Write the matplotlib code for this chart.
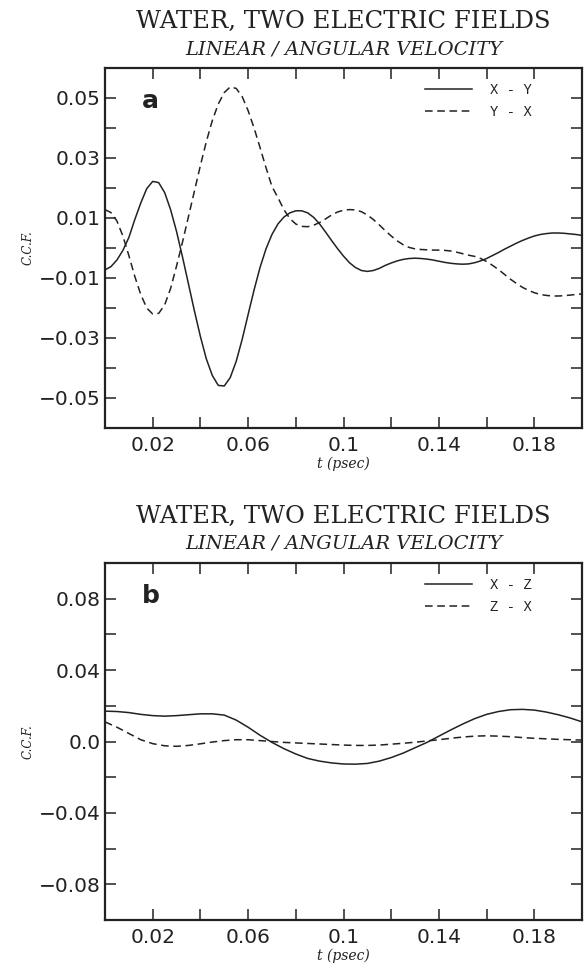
"""Cross correlation functions, water in two electric fields"""
import numpy as np
import matplotlib
matplotlib.use('Agg')
from matplotlib import pyplot as plt
from matplotlib.ticker import FixedLocator, FixedFormatter

# time axes, psec (panel a sampled finer, its curves are sharper)
t_a = np.arange(81) * 0.0025
t_b = np.arange(41) * 0.005

# panel a: linear / angular velocity, x-y and y-x
ccf_xy = [-0.0073, -0.0062, -0.0040, -0.0008, 0.0035, 0.0095, 0.0150, 0.0198, 0.0222, 0.0218,
          0.0185, 0.0128, 0.0055, -0.0030, -0.0120, -0.0210, -0.0295, -0.0370, -0.0425, -0.0458,
          -0.0460, -0.0432, -0.0378, -0.0305, -0.0222, -0.0140, -0.0065, -0.0003, 0.0045, 0.0080,
          0.0103, 0.0117, 0.0124, 0.0124, 0.0117, 0.0102, 0.0080, 0.0053, 0.0025, -0.0002,
          -0.0027, -0.0049, -0.0065, -0.0075, -0.0078, -0.0075, -0.0068, -0.0058, -0.0050, -0.0043,
          -0.0038, -0.0035, -0.0034, -0.0035, -0.0037, -0.0040, -0.0044, -0.0048, -0.0051, -0.0053,
          -0.0054, -0.0053, -0.0049, -0.0043, -0.0035, -0.0025, -0.0015, -0.0004, 0.0006, 0.0016,
          0.0025, 0.0033, 0.0040, 0.0045, 0.0048, 0.0050, 0.0050, 0.0049, 0.0047, 0.0045,
          0.0042]
ccf_yx = [0.0128, 0.0118, 0.0090, 0.0040, -0.0025, -0.0095, -0.0155, -0.0200, -0.0220, -0.0218,
          -0.0190, -0.0135, -0.0060, 0.0020, 0.0105, 0.0190, 0.0275, 0.0355, 0.0425, 0.0480,
          0.0518, 0.0537, 0.0532, 0.0505, 0.0458, 0.0400, 0.0335, 0.0268, 0.0205, 0.0168,
          0.0128, 0.0098, 0.0080, 0.0072, 0.0071, 0.0076, 0.0085, 0.0097, 0.0110, 0.0120,
          0.0126, 0.0128, 0.0127, 0.0121, 0.0110, 0.0095, 0.0077, 0.0058, 0.0040, 0.0024,
          0.0011, 0.0002, -0.0003, -0.0005, -0.0006, -0.0007, -0.0007, -0.0008, -0.0010, -0.0014,
          -0.0019, -0.0024, -0.0028, -0.0035, -0.0045, -0.0058, -0.0072, -0.0088, -0.0104, -0.0118,
          -0.0131, -0.0141, -0.0149, -0.0155, -0.0158, -0.0160, -0.0160, -0.0159, -0.0157, -0.0155,
          -0.0153]

# panel b: x-z and z-x
ccf_xz = [0.017, 0.0168, 0.0162, 0.0152, 0.0145, 0.0142, 0.0145, 0.015, 0.0155, 0.0155,
          0.0148, 0.012, 0.008, 0.0035, -0.0005, -0.004, -0.007, -0.0095, -0.011, -0.012,
          -0.0126, -0.0127, -0.0123, -0.011, -0.009, -0.0065, -0.0035, -0.0005, 0.003, 0.0065,
          0.0098, 0.0128, 0.0152, 0.0168, 0.0178, 0.018, 0.0176, 0.0165, 0.015, 0.0132,
          0.011]
ccf_zx = [0.011, 0.008, 0.0045, 0.001, -0.0012, -0.0024, -0.0027, -0.0022, -0.0013, -0.0003,
          0.0005, 0.001, 0.001, 0.0005, 0.0, -0.0005, -0.0008, -0.0011, -0.0014, -0.0017,
          -0.002, -0.0022, -0.0022, -0.002, -0.0015, -0.001, -0.0004, 0.0003, 0.001, 0.0018,
          0.0025, 0.003, 0.0032, 0.003, 0.0027, 0.0022, 0.0018, 0.0015, 0.0012, 0.001,
          0.0008]

x_major = [0.02, 0.06, 0.1, 0.14, 0.18]
x_labels = ['0.02', '0.06', '0.1', '0.14', '0.18']
x_minor = [0.04, 0.08, 0.12, 0.16]

ya_major = [-0.05, -0.03, -0.01, 0.01, 0.03, 0.05]
ya_labels = ['\u22120.05', '\u22120.03', '\u22120.01', '0.01', '0.03', '0.05']
ya_minor = [-0.04, -0.02, 0.0, 0.02, 0.04]

yb_major = [-0.08, -0.04, 0.0, 0.04, 0.08]
yb_labels = ['\u22120.08', '\u22120.04', '0.0', '0.04', '0.08']
yb_minor = [-0.06, -0.02, 0.02, 0.06]

SERIF = 'DejaVu Serif'
MONO = 'Liberation Mono'
INK = '#222222'

W, H = 586, 967
fig = plt.figure(figsize=(W / 100, H / 100), dpi=100)


def make_panel(top, bottom, ylim, ymaj, ylab, ymin, letter, t, y1, y2, lab1, lab2):
    ax = fig.add_axes([105 / W, 1 - bottom / H, 477 / W, (bottom - top) / H])
    ax.plot(t, y1, color=INK, lw=1.1, label=lab1)
    ax.plot(t, y2, color=INK, lw=1.1, ls=(0, (5, 3)), label=lab2)
    ax.set_xlim(0, 0.2)
    ax.set_ylim(*ylim)
    ax.xaxis.set_major_locator(FixedLocator(x_major))
    ax.xaxis.set_major_formatter(FixedFormatter(x_labels))
    ax.xaxis.set_minor_locator(FixedLocator(x_minor))
    ax.yaxis.set_major_locator(FixedLocator(ymaj))
    ax.yaxis.set_major_formatter(FixedFormatter(ylab))
    ax.yaxis.set_minor_locator(FixedLocator(ymin))
    ax.tick_params(which='both', direction='in', top=True, right=True,
                   length=8, width=1.1, color=INK)
    ax.tick_params(which='major', labelsize=14.5, labelcolor=INK)
    ax.tick_params(axis='y', which='major', pad=3)
    ax.tick_params(axis='x', which='major', pad=6)
    for lbl in ax.get_xticklabels() + ax.get_yticklabels():
        lbl.set_family('DejaVu Sans')
    for s in ax.spines.values():
        s.set_linewidth(1.6)
        s.set_color(INK)
    ax.set_xlabel('t (psec)', fontfamily=SERIF, style='italic', fontsize=10,
                  color=INK, labelpad=1)
    ax.set_ylabel('C.C.F.', fontfamily=SERIF, style='italic', fontsize=8.5,
                  color=INK, labelpad=3)
    ax.text(0.095, 0.907, letter, transform=ax.transAxes, ha='center', va='center',
            fontsize=18, fontweight='bold', family='DejaVu Sans', color=INK)
    leg = ax.legend(loc='upper right', bbox_to_anchor=(0.915, 0.985), frameon=False,
                    handlelength=3.4, handletextpad=1.3, labelspacing=0.55,
                    borderaxespad=0.3, prop={'family': MONO, 'size': 10})
    for txt in leg.get_texts():
        txt.set_color(INK)
    # titles above the frame
    cx = (105 + 582) / 2 / W
    fig.text(cx, 1 - (top - 47) / H, 'WATER, TWO ELECTRIC FIELDS', ha='center',
             va='center', fontfamily=SERIF, fontsize=17.5, color=INK)
    fig.text(cx, 1 - (top - 19) / H, 'LINEAR / ANGULAR VELOCITY', ha='center',
             va='center', fontfamily=SERIF, style='italic', fontsize=14, color=INK)
    return ax


make_panel(68, 428, (-0.06, 0.06), ya_major, ya_labels, ya_minor, 'a',
           t_a, ccf_xy, ccf_yx, 'X - Y', 'Y - X')
make_panel(563, 920, (-0.1, 0.1), yb_major, yb_labels, yb_minor, 'b',
           t_b, ccf_xz, ccf_zx, 'X - Z', 'Z - X')

fig.savefig('out.png', dpi=100)
